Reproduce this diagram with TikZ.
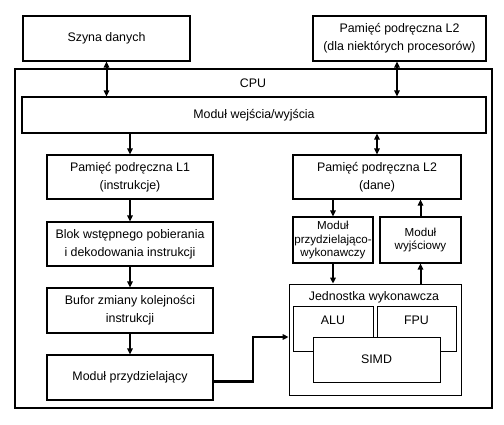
\documentclass[tikz,border=0pt]{standalone}
\usepackage{fontspec}
\setmainfont{Liberation Sans}
\usetikzlibrary{arrows.meta}

\begin{document}
\begin{tikzpicture}[x=1pt,y=-1pt,
    blok/.style={draw,line width=1.1pt,fill=white,align=center,inner sep=0pt,
      font=\fontsize{12.4}{18}\selectfont},
    maly/.style={blok,font=\fontsize{11.6}{13.5}\selectfont},
    napis/.style={font=\fontsize{12.4}{18}\selectfont,inner sep=0pt},
    strz/.style={line width=2pt,-{Triangle[length=6pt,width=5.5pt]}},
    dwustr/.style={line width=2pt,{Triangle[length=6pt,width=5.5pt]}-{Triangle[length=6pt,width=5.5pt]}}]
  \useasboundingbox (0,0) rectangle (504,424) ;
  %\draw[very thin,gray,step=20] (0,0) grid (504,424) ;
  % obudowa CPU
  \draw[line width=2.4pt] (15,69) rectangle (492,408) ;
  \node[napis] (cpu) at (253,83) {CPU} ;
  % poza CPU
  \node[blok,minimum width=167pt,minimum height=45pt] (szyna) at (106.5,38.5) {Szyna danych} ;
  \node[blok,minimum width=173pt,minimum height=45pt] (l2zew) at (399.5,38.5)
    {Pamięć podręczna L2\\(dla niektórych procesorów)} ;
  \node[blok,minimum width=464pt,minimum height=36pt] (we) at (254,115) {Moduł wejścia/wyjścia} ;
  % lewa kolumna
  \node[blok,minimum width=166pt,minimum height=44pt] (l1) at (130,177)
    {Pamięć podręczna L1\\(instrukcje)} ;
  \node[blok,minimum width=166pt,minimum height=44pt] (pobier) at (130,244)
    {Blok wstępnego pobierania\\i dekodowania instrukcji} ;
  \node[blok,minimum width=166pt,minimum height=45pt] (bufor) at (130,310.5)
    {Bufor zmiany kolejności\\instrukcji} ;
  \node[blok,minimum width=166pt,minimum height=45pt] (przydz) at (130,377.5) {Moduł przydzielający} ;
  % prawa kolumna
  \node[blok,minimum width=168pt,minimum height=44pt] (l2dane) at (377,177)
    {Pamięć podręczna L2\\(dane)} ;
  \node[maly,minimum width=80pt,minimum height=46pt] (przwyk) at (333,240)
    {Moduł\\przydzielająco-\\wykonawczy} ;
  \node[maly,minimum width=81pt,minimum height=46pt] (wyjsc) at (420.5,240)
    {Moduł\\wyjściowy} ;
  \node[blok,line width=0.8pt,minimum width=172pt,minimum height=111pt] (jedn) at (375,339.5) {} ;
  \node[napis] (jednnap) at (374,297) {Jednostka wykonawcza} ;
  \node[blok,line width=0.6pt,minimum width=80pt,minimum height=45pt,text depth=16pt] (alu) at (333,328.5) {ALU} ;
  \node[blok,line width=0.6pt,minimum width=79pt,minimum height=45pt,text depth=16pt] (fpu) at (416.5,328.5) {FPU} ;
  \node[blok,line width=0.8pt,minimum width=127pt,minimum height=45pt] (simd) at (376.5,359.5) {SIMD} ;
  % polaczenia
  \draw[dwustr] (szyna.south) -- (szyna.south |- we.north) ;
  \draw[dwustr] ([xshift=-2.5pt]l2zew.south) -- ([xshift=-2.5pt]l2zew.south |- we.north) ;
  \draw[strz] (l1.north |- we.south) -- (l1.north) ;
  \draw[dwustr] (l2dane.north |- we.south) -- (l2dane.north) ;
  \draw[strz] (l1) -- (pobier) ;
  \draw[strz] (pobier) -- (bufor) ;
  \draw[strz] (bufor) -- (przydz) ;
  \draw[strz] (przwyk.north |- l2dane.south) -- (przwyk.north) ;
  \draw[strz] (wyjsc.north) -- (wyjsc.north |- l2dane.south) ;
  \draw[strz] (przwyk.south) -- (przwyk.south |- jedn.north) ;
  \draw[strz] (wyjsc.south |- jedn.north) -- (wyjsc.south) ;
  \coordinate (zakret) at (253,337) ;
  \draw[strz,line width=2.4pt] ([yshift=-4pt]przydz.east) -- ([yshift=-4pt]przydz.east -| zakret)
    -- (zakret) -- (zakret -| jedn.west) ;
\end{tikzpicture}
\end{document}
